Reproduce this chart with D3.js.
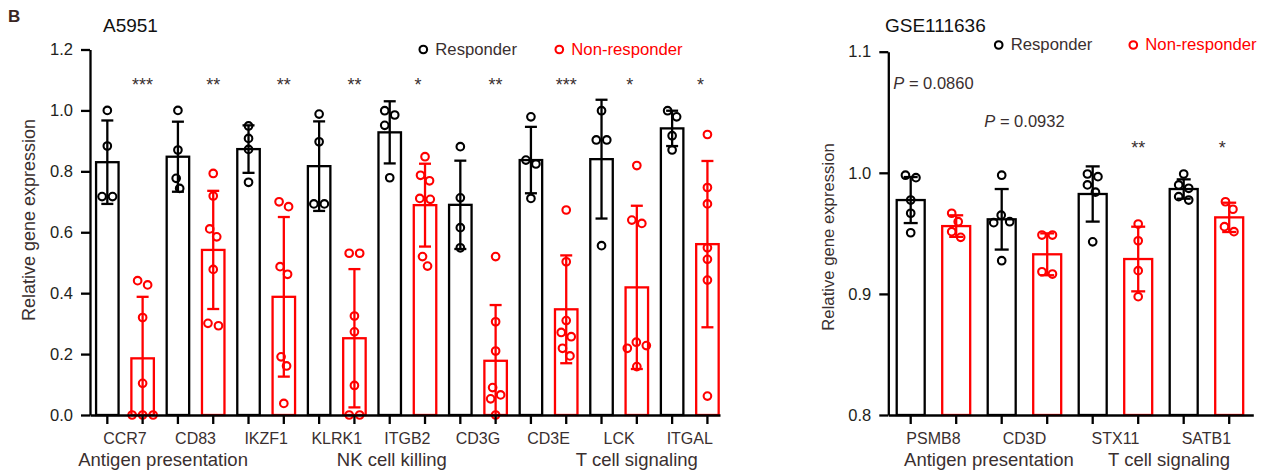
<!DOCTYPE html>
<html>
<head>
<meta charset="utf-8">
<script src="https://cdn.jsdelivr.net/npm/d3@7"></script>
<style>
  html, body { margin: 0; padding: 0; background: #fff; }
  svg { display: block; font-family: "Liberation Sans", Arial, sans-serif; }
</style>
</head>
<body>
<svg id="chart" width="1269" height="474"></svg>
<script>
// ---------------- DATA ----------------
// Panel 1: A5951
const leftGenes = ["CCR7", "CD83", "IKZF1", "KLRK1", "ITGB2", "CD3G", "CD3E", "LCK", "ITGAL"];
const leftRespMean = [0.830, 0.848, 0.873, 0.817, 0.928, 0.690, 0.837, 0.840, 0.941];
const leftRespSD   = [0.137, 0.115, 0.078, 0.147, 0.102, 0.145, 0.109, 0.195, 0.058];
const leftNonMean  = [0.186, 0.542, 0.388, 0.252, 0.689, 0.178, 0.347, 0.419, 0.561];
const leftNonSD    = [0.202, 0.194, 0.262, 0.227, 0.136, 0.183, 0.177, 0.268, 0.273];
const leftRespPoints = [
  [1.000, 0.883, 0.717, 0.717],
  [1.000, 0.870, 0.777, 0.744],
  [0.949, 0.908, 0.872, 0.764],
  [0.988, 0.897, 0.693, 0.693],
  [0.999, 0.985, 0.951, 0.779],
  [0.881, 0.713, 0.615, 0.549],
  [0.979, 0.837, 0.824, 0.711],
  [0.999, 0.903, 0.903, 0.556],
  [0.999, 0.979, 0.917, 0.870]
];
const leftNonPoints = [
  [0.441, 0.427, 0.320, 0.104, 0.000, 0.000, 0.000],
  [0.793, 0.719, 0.611, 0.585, 0.478, 0.301, 0.293],
  [0.700, 0.684, 0.487, 0.462, 0.191, 0.161, 0.038],
  [0.531, 0.531, 0.325, 0.273, 0.097, 0.000, 0.000],
  [0.848, 0.787, 0.769, 0.711, 0.708, 0.520, 0.489],
  [0.520, 0.306, 0.210, 0.090, 0.066, 0.053, 0.000],
  [0.673, 0.503, 0.310, 0.271, 0.257, 0.219, 0.194],
  [0.819, 0.640, 0.629, 0.239, 0.228, 0.219, 0.159],
  [0.921, 0.747, 0.693, 0.549, 0.511, 0.443, 0.062]
];
const leftSig = ["***", "**", "**", "**", "*", "**", "***", "*", "*"];
const leftGroups = ["Antigen presentation", "NK cell killing", "T cell signaling"];
const leftTicks = [0, 0.2, 0.4, 0.6, 0.8, 1.0, 1.2];

// Panel 2: GSE111636
const rightGenes = ["PSMB8", "CD3D", "STX11", "SATB1"];
const rightRespMean = [0.9775, 0.9616, 0.9825, 0.9866];
const rightRespSD   = [0.0190, 0.0250, 0.0228, 0.0080];
const rightNonMean  = [0.9560, 0.9327, 0.9288, 0.9632];
const rightNonSD    = [0.0089, 0.0173, 0.0267, 0.0121];
const rightRespPoints = [
  [0.998, 0.996, 0.9775, 0.9666, 0.9505],
  [0.998, 0.965, 0.9596, 0.9588, 0.9274],
  [0.999, 0.9968, 0.990, 0.984, 0.943],
  [0.999, 0.990, 0.9872, 0.9803, 0.9775]
];
const rightNonPoints = [
  [0.9666, 0.9596, 0.9514, 0.9467],
  [0.9486, 0.9486, 0.9183, 0.9164],
  [0.9577, 0.9439, 0.9192, 0.8977],
  [0.9761, 0.9699, 0.9555, 0.9514]
];
const rightPValues = ["0.0860", "0.0932", null, null];
const rightSig = [null, null, "**", "*"];
const rightGroups = ["Antigen presentation", "T cell signaling"];
const rightTicks = [0.8, 0.9, 1.0, 1.1];

const seriesNames = ["Responder", "Non-responder"];

// ---------------- STYLE / LAYOUT ----------------
const COLORS = ["#000000", "#ff0000"];
const TEXT = "#3a2f2f";
const FONT = "'Liberation Sans', Arial, sans-serif";
const svg = d3.select("#chart");

function swarmOffsets(values, y, D) {
  const n = values.length;
  const offs = new Array(n).fill(0);
  const idx = d3.range(n).sort((a, b) => values[b] - values[a]);
  const clusters = [];
  let cur = [idx[0]];
  for (let k = 1; k < n; k++) {
    if (Math.abs(y(values[idx[k]]) - y(values[idx[k - 1]])) < D) cur.push(idx[k]);
    else { clusters.push(cur); cur = [idx[k]]; }
  }
  clusters.push(cur);
  clusters.forEach(cl => {
    const placed = [];
    cl.forEach(i => {
      const yi = y(values[i]);
      let best = 0;
      for (let s = 0; s <= 40; s += 0.5) {
        const cands = s === 0 ? [0] : [s, -s];
        let found = null;
        for (const dx of cands) {
          if (placed.every(p => (dx - p.dx) ** 2 + (yi - p.y) ** 2 >= D * D)) { found = dx; break; }
        }
        if (found !== null) { best = found; break; }
      }
      placed.push({ i, dx: best, y: yi });
    });
    const mn = d3.min(placed, p => p.dx), mx = d3.max(placed, p => p.dx);
    const mid = (mn + mx) / 2;
    placed.forEach(p => { offs[p.i] = p.dx - mid; });
  });
  return offs;
}

function drawPanel(cfg) {
  const g = svg.append("g");
  const keys = [];
  cfg.genes.forEach((gname, i) => { keys.push(gname + "|0"); keys.push(gname + "|1"); });
  const x = d3.scaleBand().domain(keys).range([cfg.x0, cfg.x1])
    .paddingInner(cfg.padInner).paddingOuter(cfg.padOuter).align(cfg.align);
  const y = d3.scaleLinear().domain(cfg.domain).range([cfg.yBottom, cfg.yTop]);
  const bw = x.bandwidth();
  const cx = k => x(k) + bw / 2;

  const series = [
    { mean: cfg.respMean, sd: cfg.respSD, pts: cfg.respPts },
    { mean: cfg.nonMean, sd: cfg.nonSD, pts: cfg.nonPts }
  ];

  // bars
  series.forEach((s, si) => {
    g.append("g").selectAll("rect").data(cfg.genes).join("rect")
      .attr("x", gname => x(gname + "|" + si))
      .attr("width", bw)
      .attr("y", (gname, i) => y(s.mean[i]))
      .attr("height", (gname, i) => y(cfg.domain[0]) - y(s.mean[i]))
      .attr("fill", "none")
      .attr("stroke", COLORS[si])
      .attr("stroke-width", 2.3);
  });

  // error bars
  series.forEach((s, si) => {
    const eg = g.append("g").attr("stroke", COLORS[si]).attr("stroke-width", 2.3);
    cfg.genes.forEach((gname, i) => {
      const k = gname + "|" + si;
      const c = cx(k);
      const hi = s.mean[i] + s.sd[i];
      const loRaw = s.mean[i] - s.sd[i];
      const lo = Math.max(loRaw, cfg.domain[0]);
      eg.append("line").attr("x1", c).attr("x2", c).attr("y1", y(lo)).attr("y2", y(hi));
      eg.append("line").attr("x1", c - cfg.cap).attr("x2", c + cfg.cap).attr("y1", y(hi)).attr("y2", y(hi));
      if (loRaw >= cfg.domain[0]) {
        eg.append("line").attr("x1", c - cfg.cap).attr("x2", c + cfg.cap).attr("y1", y(lo)).attr("y2", y(lo));
      }
    });
  });

  // points
  series.forEach((s, si) => {
    const pg = g.append("g");
    cfg.genes.forEach((gname, i) => {
      const c = cx(gname + "|" + si);
      const vals = s.pts[i];
      const offs = swarmOffsets(vals, y, 10.5);
      pg.selectAll(null).data(vals).join("circle")
        .attr("cx", (v, j) => c + offs[j])
        .attr("cy", v => y(v))
        .attr("r", 3.8)
        .attr("fill", "none")
        .attr("stroke", COLORS[si])
        .attr("stroke-width", 2.1);
    });
  });

  // axes
  const yAxis = d3.axisLeft(y).tickValues(cfg.ticks).tickFormat(d3.format(".1f"))
    .tickSize(9).tickPadding(8).tickSizeOuter(0);
  const ya = g.append("g").attr("transform", `translate(${cfg.x0},0)`).call(yAxis);
  ya.select(".domain").attr("stroke-width", 2.3).attr("stroke", "#000");
  ya.selectAll(".tick line").attr("stroke-width", 2.3).attr("stroke", "#000");
  ya.selectAll(".tick text").attr("font-size", "16.5px").attr("font-family", FONT).attr("fill", "#231f20");

  const xAxis = d3.axisBottom(x).tickFormat("").tickSize(9).tickSizeOuter(0);
  const xa = g.append("g").attr("transform", `translate(0,${cfg.yBottom})`).call(xAxis);
  xa.select(".domain").attr("stroke-width", 2.3).attr("stroke", "#000");
  xa.selectAll(".tick line").attr("stroke-width", 2.3).attr("stroke", "#000");

  // gene labels
  const gc = gname => (cx(gname + "|0") + cx(gname + "|1")) / 2;
  g.append("g").selectAll("text").data(cfg.genes).join("text")
    .attr("x", gname => gc(gname))
    .attr("y", cfg.yBottom + 29)
    .attr("text-anchor", "middle")
    .attr("font-size", "16px").attr("font-family", FONT).attr("fill", TEXT)
    .text(d => d);

  // group labels
  const gIdx = d3.scaleLinear().domain([0, cfg.genes.length - 1])
    .range([gc(cfg.genes[0]), gc(cfg.genes[cfg.genes.length - 1])]);
  g.append("g").selectAll("text").data(cfg.groups).join("text")
    .attr("x", (d, i) => gIdx(cfg.groupAt[i]))
    .attr("y", cfg.yBottom + 51)
    .attr("text-anchor", "middle")
    .attr("font-size", "18.5px").attr("font-family", FONT).attr("fill", TEXT)
    .text(d => d);

  // y axis label
  g.append("text")
    .attr("transform", `translate(${cfg.yLabelX},${cfg.yLabelY}) rotate(-90)`)
    .attr("text-anchor", "middle").attr("dy", "0.35em")
    .attr("font-size", cfg.yLabelSize).attr("font-family", FONT).attr("fill", TEXT)
    .text("Relative gene expression");

  // title
  g.append("text").attr("x", cfg.titleX).attr("y", 32)
    .attr("font-size", "19px").attr("font-family", FONT).attr("fill", "#111")
    .text(cfg.title);

  // significance stars
  g.append("g").selectAll("text").data(cfg.sig.map((s, i) => ({ s, g: cfg.genes[i] })).filter(d => d.s))
    .join("text")
    .attr("x", d => cx(d.g + "|1") + (d.s.length === 1 ? -7 : 0))
    .attr("y", cfg.sigY)
    .attr("text-anchor", "middle")
    .attr("font-size", "18px").attr("font-family", FONT).attr("fill", TEXT)
    .text(d => d.s);

  // p-values
  if (cfg.pvals) {
    cfg.pvals.forEach((p, i) => {
      if (!p) return;
      const t = g.append("text").attr("x", gc(cfg.genes[i])).attr("y", cfg.pY[i])
        .attr("text-anchor", "middle")
        .attr("font-size", "16.5px").attr("font-family", FONT).attr("fill", TEXT);
      t.append("tspan").attr("font-style", "italic").text("P");
      t.append("tspan").text(" = " + p);
    });
  }

  // legend
  const lg = g.append("g");
  seriesNames.forEach((name, si) => {
    const lx = cfg.legendX[si];
    lg.append("circle").attr("cx", lx).attr("cy", cfg.legendY - 5)
      .attr("r", 3.8).attr("fill", "none").attr("stroke", COLORS[si]).attr("stroke-width", 2.1);
    lg.append("text").attr("x", lx + 12).attr("y", cfg.legendY)
      .attr("font-size", "16.7px").attr("font-family", FONT)
      .attr("fill", si === 0 ? TEXT : COLORS[1])
      .text(name);
  });
}

// panel letter
svg.append("text").attr("x", 8).attr("y", 21.5)
  .attr("font-size", "17px").attr("font-weight", "bold").attr("font-family", FONT)
  .attr("fill", "#3a2623").text("B");

drawPanel({
  genes: leftGenes, groups: leftGroups, groupAt: [0.54, 3.78, 7.25],
  respMean: leftRespMean, respSD: leftRespSD, respPts: leftRespPoints,
  nonMean: leftNonMean, nonSD: leftNonSD, nonPts: leftNonPoints,
  sig: leftSig, sigY: 90.5,
  ticks: leftTicks, domain: [0, 1.2],
  x0: 90, x1: 720, padInner: 0.363, padOuter: 0.105, align: 0.82,
  yBottom: 415, yTop: 49.5, cap: 6,
  yLabelX: 29, yLabelY: 220, yLabelSize: "18px",
  title: "A5951", titleX: 103,
  legendX: [423.3, 559.3], legendY: 54.5
});

drawPanel({
  genes: rightGenes, groups: rightGroups, groupAt: [0.61, 2.59],
  respMean: rightRespMean, respSD: rightRespSD, respPts: rightRespPoints,
  nonMean: rightNonMean, nonSD: rightNonSD, nonPts: rightNonPoints,
  sig: rightSig, sigY: 154, pvals: rightPValues, pY: [89, 127],
  ticks: rightTicks, domain: [0.8, 1.1],
  x0: 888.3, x1: 1253.3, padInner: 0.385, padOuter: 0.2035, align: 0.454,
  yBottom: 415, yTop: 51.7, cap: 7,
  yLabelX: 828, yLabelY: 237, yLabelSize: "16.7px",
  title: "GSE111636", titleX: 885,
  legendX: [998.7, 1133.3], legendY: 50
});
</script>
</body>
</html>
